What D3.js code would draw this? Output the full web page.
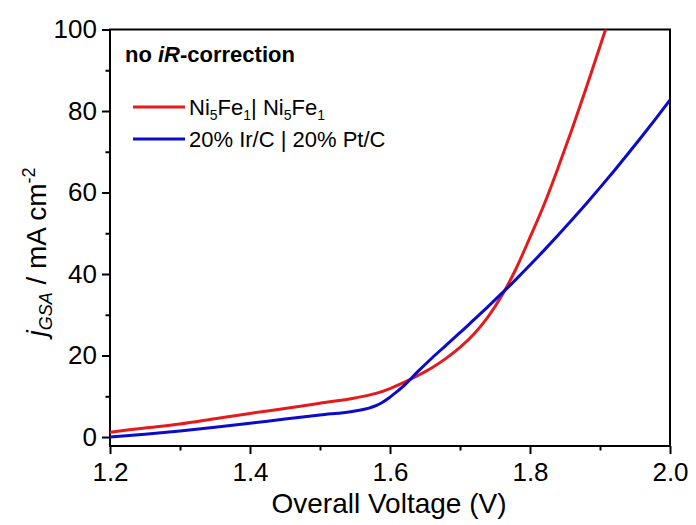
<!DOCTYPE html>
<html>
<head>
<meta charset="utf-8">
<script src="https://cdn.jsdelivr.net/npm/d3@7/dist/d3.min.js"></script>
<style>
  html, body { margin: 0; padding: 0; background: #fff; }
  svg { display: block; font-family: "Liberation Sans", Arial, sans-serif; }
</style>
</head>
<body>
<svg id="chart" width="696" height="525"></svg>
<script>
// ---- Data ----
const redVoltage = [1.20, 1.25, 1.30, 1.35, 1.40, 1.45, 1.50, 1.55, 1.58, 1.60, 1.62, 1.64, 1.66, 1.68, 1.70, 1.72, 1.74, 1.76, 1.78, 1.80, 1.82, 1.84, 1.86, 1.88, 1.907, 1.915];
const redCurrent = [1.2, 2.2, 3.2, 4.5, 5.8, 7.0, 8.3, 9.6, 10.7, 11.9, 13.4, 15.1, 17.0, 19.3, 22.0, 25.3, 29.5, 34.8, 41.3, 49.0, 57.0, 66.0, 75.5, 85.5, 99.5, 103.7];
const blueVoltage = [1.20, 1.25, 1.30, 1.35, 1.40, 1.45, 1.50, 1.55, 1.57, 1.58, 1.59, 1.60, 1.62, 1.64, 1.66, 1.68, 1.70, 1.72, 1.74, 1.76, 1.78, 1.80, 1.82, 1.84, 1.86, 1.88, 1.90, 1.92, 1.94, 1.96, 1.98, 2.00];
const blueCurrent = [0.0, 0.7, 1.5, 2.4, 3.4, 4.4, 5.4, 6.4, 7.1, 7.7, 8.6, 9.8, 12.6, 16.1, 19.4, 22.5, 25.6, 28.8, 32.0, 35.3, 38.7, 42.2, 45.8, 49.5, 53.3, 57.2, 61.2, 65.3, 69.5, 73.8, 78.2, 82.7];
const seriesNames = ["Ni5Fe1| Ni5Fe1", "20% Ir/C | 20% Pt/C"];
const seriesColors = ["#e41a1c", "#0b0bcc"];
const xMajorTicks = [1.2, 1.4, 1.6, 1.8, 2.0];
const xMinorTicks = [1.3, 1.5, 1.7, 1.9];
const yMajorTicks = [0, 20, 40, 60, 80, 100];
const yMinorTicks = [10, 30, 50, 70, 90];

// ---- Layout ----
const svg = d3.select("#chart");
const pL = 110, pR = 670, pT = 29.5, pB = 446;
const x = d3.scaleLinear().domain([1.2, 2.0]).range([pL, pR]);
const y = d3.scaleLinear().domain([-2.2, 100]).range([pB, pT]);
const FS = 26;

svg.append("defs").append("clipPath").attr("id", "clip")
  .append("rect").attr("x", pL).attr("y", pT).attr("width", pR - pL).attr("height", pB - pT);

// Axes
function styleAxis(g) {
  g.select(".domain").remove();
  g.selectAll("line").attr("stroke", "#000").attr("stroke-width", 2);
  g.selectAll("text").attr("fill", "#000").style("font-size", FS + "px")
    .style("font-family", '"Liberation Sans", Arial, sans-serif');
}
svg.append("g").attr("transform", `translate(0,${pB})`)
  .call(d3.axisBottom(x).tickValues(xMajorTicks).tickSize(8).tickPadding(9).tickFormat(d3.format(".1f")))
  .call(styleAxis);
svg.append("g").attr("transform", `translate(0,${pB})`)
  .call(d3.axisBottom(x).tickValues(xMinorTicks).tickSize(4.5).tickFormat(""))
  .call(styleAxis);
svg.append("g").attr("transform", `translate(${pL},0)`)
  .call(d3.axisLeft(y).tickValues(yMajorTicks).tickSize(8).tickPadding(5).tickFormat(d3.format("d")))
  .call(styleAxis);
svg.append("g").attr("transform", `translate(${pL},0)`)
  .call(d3.axisLeft(y).tickValues(yMinorTicks).tickSize(4.5).tickFormat(""))
  .call(styleAxis);

// Frame
svg.append("rect").attr("x", pL).attr("y", pT).attr("width", pR - pL).attr("height", pB - pT)
  .attr("fill", "none").attr("stroke", "#000").attr("stroke-width", 2);

// Curves
const line = d3.line().x(d => x(d[0])).y(d => y(d[1])).curve(d3.curveMonotoneX);
const series = [
  d3.zip(redVoltage, redCurrent),
  d3.zip(blueVoltage, blueCurrent)
];
const plot = svg.append("g").attr("clip-path", "url(#clip)");
series.forEach((s, i) => {
  plot.append("path").datum(s).attr("d", line)
    .attr("fill", "none").attr("stroke", seriesColors[i]).attr("stroke-width", 3)
    .attr("stroke-linejoin", "round").attr("stroke-linecap", "round");
});

// Axis titles
svg.append("text").attr("x", (pL + pR) / 2 - 1).attr("y", 513).attr("text-anchor", "middle")
  .style("font-size", "28px").text("Overall Voltage (V)");

const yl = svg.append("text").attr("transform", "translate(46,252) rotate(-90)")
  .attr("text-anchor", "middle").style("font-size", "28px");
yl.append("tspan").style("font-style", "italic").text("j");
yl.append("tspan").style("font-style", "italic").style("font-size", "18px").attr("dy", 6).text("GSA");
yl.append("tspan").attr("dy", -6).text(" / mA cm");
yl.append("tspan").style("font-size", "18px").attr("dy", -11).text("-2");

// Annotation
const ann = svg.append("text").attr("x", 125).attr("y", 62).style("font-size", "22px").style("font-weight", "bold");
ann.append("tspan").text("no ");
ann.append("tspan").style("font-style", "italic").text("iR");
ann.append("tspan").text("-correction");

// Legend
const legY = [107, 139];
legY.forEach((ly, i) => {
  svg.append("line").attr("x1", 133).attr("x2", 185).attr("y1", ly).attr("y2", ly)
    .attr("stroke", seriesColors[i]).attr("stroke-width", 3);
});
const t1 = svg.append("text").attr("x", 189).attr("y", 115).style("font-size", "22px");
t1.append("tspan").text("Ni");
t1.append("tspan").style("font-size", "14px").attr("dy", 5).text("5");
t1.append("tspan").attr("dy", -5).text("Fe");
t1.append("tspan").style("font-size", "14px").attr("dy", 5).text("1");
t1.append("tspan").attr("dy", -5).text("| Ni");
t1.append("tspan").style("font-size", "14px").attr("dy", 5).text("5");
t1.append("tspan").attr("dy", -5).text("Fe");
t1.append("tspan").style("font-size", "14px").attr("dy", 5).text("1");
svg.append("text").attr("x", 189).attr("y", 147).style("font-size", "22px").text(seriesNames[1]);
</script>
</body>
</html>
